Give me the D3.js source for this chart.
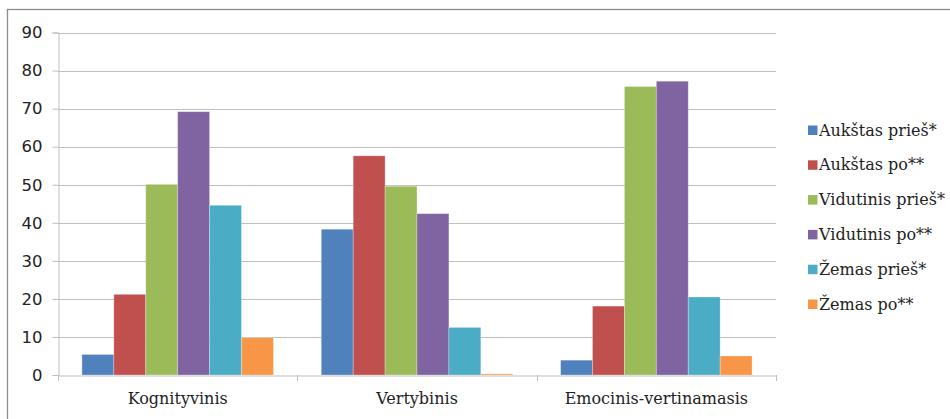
<!DOCTYPE html>
<html><head><meta charset="utf-8">
<script src="https://cdn.jsdelivr.net/npm/d3@7"></script>
<style>body{margin:0;background:#fff}svg{display:block}</style>
</head><body>
<svg id="c" width="950" height="419"></svg>
<script>
const categories = ["Kognityvinis", "Vertybinis", "Emocinis-vertinamasis"];
const seriesNames = ["Aukštas prieš*", "Aukštas po**", "Vidutinis prieš*", "Vidutinis po**", "Žemas prieš*", "Žemas po**"];
const aukstasPries = [5.4, 38.3, 3.9];
const aukstasPo = [21.2, 57.6, 18.1];
const vidutinisPries = [50.1, 49.6, 75.8];
const vidutinisPo = [69.2, 42.4, 77.2];
const zemasPries = [44.6, 12.5, 20.5];
const zemasPo = [9.8, 0.3, 5.0];
const yTicks = [0, 10, 20, 30, 40, 50, 60, 70, 80, 90];
const colors = ["#4F81BD", "#C0504D", "#9BBB59", "#8064A2", "#4BACC6", "#F79646"];

(function () {
const series = [aukstasPries, aukstasPo, vidutinisPries, vidutinisPo, zemasPries, zemasPo];
const svg = d3.select("#c");

// outer frame (cropped at right/bottom)
svg.append("rect").attr("x", 7.5).attr("y", 9.5).attr("width", 960).attr("height", 430)
  .attr("fill", "none").attr("stroke", "#8c8c8c").attr("stroke-width", 1.3);

const pLeft = 58, pRight = 776, pTop = 32.5, pBottom = 375;
const x0 = d3.scaleBand().domain(categories).range([pLeft, pRight]).paddingInner(0).paddingOuter(0);
const x1 = d3.scaleBand().domain(seriesNames).range([0, x0.bandwidth()]).paddingInner(0)
  .paddingOuter(0.75);
const y = d3.scaleLinear().domain([0, 90]).range([pBottom, pTop]);

// gridlines
svg.append("g").selectAll("line").data(yTicks.filter(d => d > 0)).join("line")
  .attr("x1", pLeft).attr("x2", pRight).attr("y1", d => Math.round(y(d)) + 0.5).attr("y2", d => Math.round(y(d)) + 0.5)
  .attr("stroke", "#bfbfbf").attr("stroke-width", 1);

// y axis
const yAxis = svg.append("g").attr("transform", `translate(${pLeft + 0.5},0)`)
  .call(d3.axisLeft(y).tickValues(yTicks).tickSize(6).tickPadding(10).tickFormat(d3.format("d")));
yAxis.select(".domain").attr("stroke", "#bfbfbf");
yAxis.selectAll(".tick line").attr("stroke", "#bfbfbf");
yAxis.selectAll(".tick text").attr("font-family", "'DejaVu Sans', sans-serif")
  .attr("font-size", 16.5).attr("fill", "#222");

// bars
const g = svg.append("g");
categories.forEach((c, ci) => {
  g.selectAll(null).data(series.map((s, si) => ({name: seriesNames[si], v: s[ci], col: colors[si]}))).join("rect")
    .attr("x", d => x0(c) + x1(d.name))
    .attr("width", x1.bandwidth())
    .attr("y", d => y(d.v))
    .attr("height", d => pBottom - y(d.v))
    .attr("fill", d => d.col)
    .attr("stroke", "#ffffff").attr("stroke-opacity", 0.35).attr("stroke-width", 0.8);
});

// x axis
const xAxis = svg.append("g").attr("transform", `translate(0,${pBottom + 0.5})`)
  .call(d3.axisBottom(x0).tickSize(0).tickPadding(17));
xAxis.select(".domain").attr("stroke", "#bfbfbf");
xAxis.selectAll(".tick text").attr("font-family", "'DejaVu Serif', serif")
  .attr("font-size", 16).attr("fill", "#222");
// boundary ticks
const bounds = categories.map(c => x0(c)).concat([pRight]);
svg.append("g").selectAll("line").data(bounds).join("line")
  .attr("x1", d => Math.round(d) + 0.5).attr("x2", d => Math.round(d) + 0.5)
  .attr("y1", pBottom).attr("y2", pBottom + 6).attr("stroke", "#bfbfbf");

// legend
const leg = svg.append("g").attr("transform", "translate(808,130)");
const li = leg.selectAll("g").data(seriesNames).join("g").attr("transform", (d, i) => `translate(0,${i * 34.8})`);
li.append("rect").attr("x", 0).attr("y", -4.5).attr("width", 9.5).attr("height", 9.5).attr("fill", (d, i) => colors[i]);
li.append("text").attr("x", 11).attr("y", 5.5).text(d => d)
  .attr("font-family", "'DejaVu Serif', serif").attr("font-size", 16).attr("fill", "#222");
})();
</script>
</body></html>
